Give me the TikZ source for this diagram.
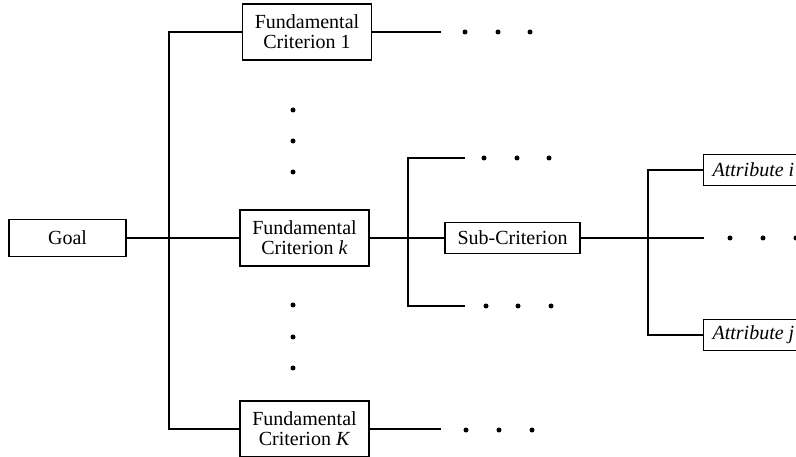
\documentclass[tikz,border=0pt]{standalone}
\usepackage{fontspec}
\setmainfont{Liberation Serif}
\begin{document}
\begin{tikzpicture}[x=1pt,y=-1pt,line width=1.2pt,
  box/.style={draw,line width=1.2pt,inner sep=0pt,align=center,font=\fontsize{20}{20}\selectfont},
  fcbox/.style={box,minimum width=129pt,minimum height=56pt},
  smallbox/.style={box,minimum height=31pt},
  attrbox/.style={smallbox,anchor=west,inner xsep=9pt},
  dot/.style={circle,fill,inner sep=0pt,minimum size=5pt}]
\useasboundingbox (0,0) rectangle (796,457);
\clip (0,0) rectangle (796,457);
% nodes
\node[box,minimum width=117pt,minimum height=37pt] (goal) at (67.5,238) {Goal};
\node[fcbox] (fc1) at (307,32) {Fundamental\\Criterion 1};
\node[fcbox] (fck) at (304.5,238) {Fundamental\\Criterion \textit{k}};
\node[fcbox] (fcK) at (304.5,429) {Fundamental\\Criterion \textit{K}};
\node[smallbox,minimum width=135pt] (sub) at (512.5,238) {Sub-Criterion};
\node[attrbox] (ai) at (703,170) {\textit{Attribute i}};
\node[attrbox] (aj) at (703,335) {\textit{Attribute j}};
% coordinates
\coordinate (tr) at (169,0);
\coordinate (e1) at (441,32);
\coordinate (eK) at (441,429);
\coordinate (sr) at (408,0);
\coordinate (s1) at (465,158);
\coordinate (s2) at (465,306);
\coordinate (ar) at (648,0);
\coordinate (am) at (704,238);
% connectors
\draw (goal) -- (fck);
\draw (fc1.west) -- (fc1.west -| tr) -- (fcK.west -| tr) -- (fcK.west);
\draw (fc1.east) -- (e1);
\draw (fcK.east) -- (eK);
\draw (fck) -- (sub);
\draw (s1) -- (s1 -| sr) -- (s2 -| sr) -- (s2);
\draw (sub) -- (am);
\draw (ai.west) -- (ai.west -| ar) -- (aj.west -| ar) -- (aj.west);
% dots
\foreach \x in {465,498,530} \node[dot] at (\x,32) {};
\foreach \x in {466,499,532} \node[dot] at (\x,430) {};
\foreach \y in {110,141,172,305,337,368} \node[dot] at (293,\y) {};
\foreach \x in {484,517,549} \node[dot] at (\x,158) {};
\foreach \x in {486,518,551} \node[dot] at (\x,306) {};
\foreach \x in {730,763,796} \node[dot] at (\x,238) {};
\end{tikzpicture}
\end{document}
